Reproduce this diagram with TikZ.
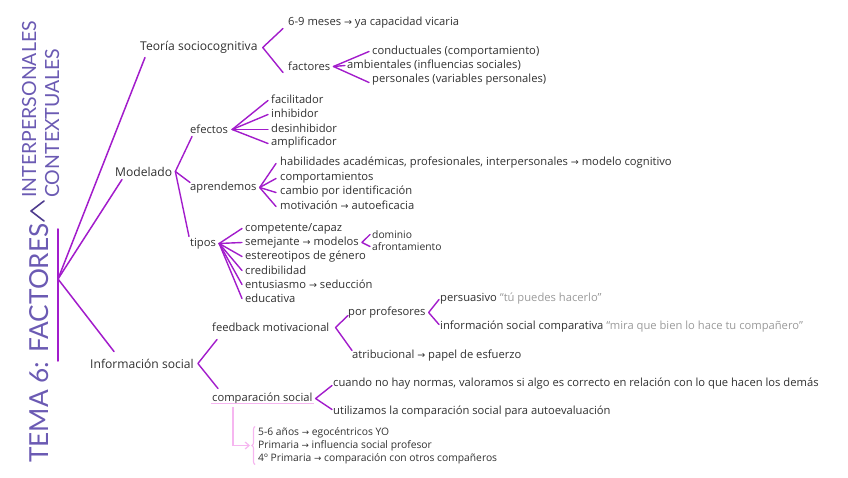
\documentclass[tikz,border=0pt]{standalone}
\usepackage{fontspec}
\setmainfont{Open Sans}
\newfontfamily\dvs{DejaVu Sans}
\newfontfamily\ttlfnt{Lato}
\usetikzlibrary{arrows.meta,decorations.pathreplacing}
\definecolor{vio}{HTML}{A21CCB}
\definecolor{ttl}{HTML}{6B5AB3}
\definecolor{ttd}{HTML}{4E3C8E}
\definecolor{pk}{HTML}{F6B6F0}
\definecolor{gq}{HTML}{9A9A9A}
\definecolor{tx}{HTML}{303030}
\newcommand{\myarr}{{\dvs\scalebox{0.85}{→}}}
\begin{document}
\begin{tikzpicture}[x=1pt,y=-1pt,
  br/.style={vio, line width=1.4pt, line cap=round, line join=round},
  mainln/.style={vio, line width=1.5pt, line cap=round},
  t/.style={anchor=west, inner sep=1pt, yshift=-1.5pt, text=tx, font=\fontsize{11.2}{12}\selectfont},
  tm/.style={t, font=\fontsize{12.1}{13}\selectfont},
  ts/.style={t, font=\fontsize{10.3}{11}\selectfont},
  ttlf/.style={text=ttl, inner sep=0pt, rotate=90, anchor=base west}]
\useasboundingbox (0,0) rectangle (848,478);
% title
\node[ttlf, font=\ttlfnt\fontsize{26.2}{30}\selectfont] (tema) at (48,463) {TEMA 6: FACTORES};
\node[ttlf, font=\ttlfnt\fontsize{19.5}{22}\selectfont] (inter) at (36,198) {INTERPERSONALES};
\node[ttlf, font=\ttlfnt\fontsize{19.5}{22}\selectfont] (cont) at (59,198) {CONTEXTUALES};
\coordinate (lt1) at (44,201);
\coordinate (lt0) at (31,211);
\coordinate (lt2) at (44,221);
\draw[ttd, line width=1.6pt, line cap=round, line join=round] (lt1) -- (lt0) -- (lt2);
\coordinate (vt) at (58,229);
\coordinate (vb) at (58,361);
\coordinate (J) at (58,279);
\draw[mainln] (vt) -- (vb);
% level 1
\node[tm] (teo) at (139,46) {Teoría sociocognitiva};
\node[tm] (mod) at (114,170) {Modelado};
\node[tm] (inf) at (89,362) {Información social};
\draw[mainln] (J) -- ([shift={(6,10)}]teo.west);
\draw[mainln] (J) -- ([shift={(8,8)}]mod.west);
\draw[mainln] (J) -- ([shift={(25,-12)}]inf.west);
% Teoria
\node[t] (m69) at (287,21) {6-9 meses \myarr{} ya capacidad vicaria};
\node[t] (fac) at (287,65) {factores};
\node[t] (cond) at (371,50) {conductuales (comportamiento)};
\node[t] (amb) at (346,64) {ambientales (influencias sociales)};
\node[t] (pers) at (371,78) {personales (variables personales)};
\coordinate (aT) at ([xshift=4]teo.east);
\draw[br] ([shift={(-4,6)}]m69.west) -- (aT) -- ([shift={(-4,6)}]fac.west);
\coordinate (aF) at ([xshift=2]fac.east);
\draw[br] ([shift={(-2,0)}]cond.west) -- (aF) -- ([shift={(-2,3)}]pers.west);
\draw[br] (aF) -- ([xshift=-1]amb.west);
% Modelado
\node[t] (efe) at (189,128) {efectos};
\node[t] (apr) at (189,186) {aprendemos};
\node[t] (tip) at (189,242) {tipos};
\coordinate (aM) at ([xshift=2]mod.east);
\draw[br] ([shift={(3,7)}]efe.west) -- (aM) -- ([shift={(1,-5)}]apr.west);
\draw[br] (aM) -- ([shift={(0,-7)}]tip.west);
\node[t] (fa) at (270,98) {facilitador};
\node[t] (inh) at (270,112) {inhibidor};
\node[t] (des) at (270,127) {desinhibidor};
\node[t] (amp) at (270,141) {amplificador};
\coordinate (aE) at ([xshift=3]efe.east);
\foreach \n in {fa,inh,des,amp} \draw[br] (aE) -- ([shift={(-2,1)}]\n.west);
\node[t] (hab) at (279,161) {habilidades académicas, profesionales, interpersonales \myarr{} modelo cognitivo};
\node[t] (com) at (279,176) {comportamientos};
\node[t] (cam) at (279,190) {cambio por identificación};
\node[t] (mot) at (279,204) {motivación \myarr{} autoeficacia};
\coordinate (aA) at ([xshift=2]apr.east);
\foreach \n in {hab,com,cam,mot} \draw[br] (aA) -- ([shift={(-3,1)}]\n.west);
\node[t] (cp) at (244,227) {competente/capaz};
\node[t] (sem) at (244,241) {semejante \myarr{} modelos};
\node[t] (est) at (244,255) {estereotipos de género};
\node[t] (cre) at (244,269) {credibilidad};
\node[t] (ent) at (244,283) {entusiasmo \myarr{} seducción};
\node[t] (edu) at (244,297) {educativa};
\coordinate (aTi) at ([xshift=2]tip.east);
\foreach \n in {cp,sem,est,cre,ent,edu} \draw[br] (aTi) -- ([shift={(-2,0)}]\n.west);
\node[ts] (dom) at (371,233) {dominio};
\node[ts] (afr) at (371,245) {afrontamiento};
\coordinate (aS) at ([xshift=2]sem.east);
\draw[br] ([xshift=-1]dom.west) -- (aS) -- ([xshift=-1]afr.west);
% Informacion social
\node[t] (fb) at (211,326) {feedback motivacional};
\node[t] (cs) at (211,397) {comparación social};
\coordinate (aI) at ([xshift=3]inf.east);
\draw[br] ([shift={(6,12)}]fb.west) -- (aI) -- ([shift={(7,-10)}]cs.west);
\node[t] (pp) at (347,311) {por profesores};
\node[t] (atr) at (351,354) {atribucional \myarr{} papel de esfuerzo};
\coordinate (aFb) at ([xshift=5]fb.east);
\draw[br] ([shift={(1,3)}]pp.west) -- (aFb) -- ([shift={(1,-5)}]atr.west);
\node[t] (per) at (439,297) {persuasivo \textcolor{gq}{“tú puedes hacerlo”}};
\node[t] (isc) at (439,325) {información social comparativa \textcolor{gq}{“mira que bien lo hace tu compañero”}};
\coordinate (aP) at ([xshift=2]pp.east);
\draw[br] ([shift={(0,1)}]per.west) -- (aP) -- ([shift={(0,-2)}]isc.west);
\node[t] (cua) at (332,382) {cuando no hay normas, valoramos si algo es correcto en relación con lo que hacen los demás};
\node[t] (uti) at (332,410) {utilizamos la comparación social para autoevaluación};
\coordinate (aC) at ([xshift=2]cs.east);
\draw[br] ([shift={(0,2)}]cua.west) -- (aC) -- ([shift={(0,-2)}]uti.west);
% pink
\draw[pk, line width=1.2pt] ([yshift=2]cs.south west) -- ([yshift=2]cs.south east);
\node[ts] (l1) at (257,431) {5-6 años \myarr{} egocéntricos YO};
\node[ts] (l2) at (257,444) {Primaria \myarr{} influencia social profesor};
\node[ts] (l3) at (257,457) {4º Primaria \myarr{} comparación con otros compañeros};
\coordinate (pk0) at ([shift={(22,2)}]cs.south west);
\coordinate (pk1) at ([xshift=22]cs.south west |- l2.west);
\coordinate (pk2) at ([xshift=-7]l2.west);
\draw[pk, line width=1.2pt, -{Straight Barb[length=4pt,width=7pt]}] (pk0) -- (pk1) -- (pk2);
\coordinate (bt) at ([shift={(-2,-6)}]l1.west);
\coordinate (bb) at ([shift={(-2,6)}]l3.west);
\draw[pk, line width=1.1pt, decorate, decoration={brace, amplitude=3pt}] (bb) -- (bt);
\end{tikzpicture}
\end{document}
